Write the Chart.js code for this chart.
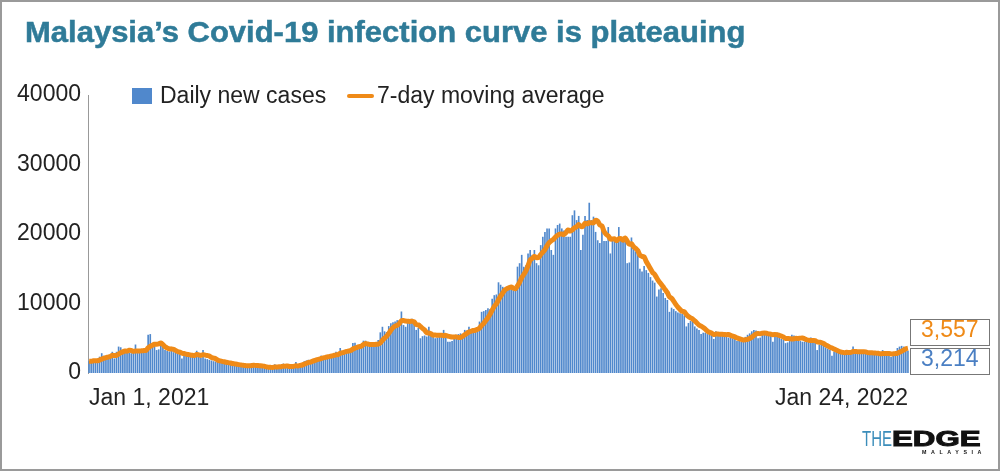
<!DOCTYPE html>
<html>
<head>
<meta charset="utf-8">
<title>Malaysia's Covid-19 infection curve is plateauing</title>
<script src="https://cdn.jsdelivr.net/npm/chart.js@4.4.1/dist/chart.umd.min.js"></script>
<style>
  html, body { margin: 0; padding: 0; background: #fff; }
  #page { position: relative; width: 1000px; height: 471px; overflow: hidden; background: #fff;
          font-family: "Liberation Sans", Arial, Helvetica, sans-serif; color: #222; }
  #chartBox { position: absolute; left: 0; top: 0; width: 1000px; height: 471px; }
  #frame { position: absolute; left: 0; top: 0; width: 1000px; height: 471px; box-sizing: border-box;
           border: 2px solid #9a9a9a; pointer-events: none; }
  #title { position: absolute; left: 25px; top: 17px; font-weight: bold; font-size: 30px; line-height: 30px;
           color: #2f7b98; white-space: nowrap; transform-origin: 0 0; -webkit-text-stroke: 0.5px #2f7b98; }
  .legendText { position: absolute; top: 84px; font-size: 23px; line-height: 23px; white-space: nowrap; color: #222; }
  #swatchBar { position: absolute; left: 132px; top: 88px; width: 20px; height: 16px; background: #5088cc; }
  #swatchLine { position: absolute; left: 347px; top: 94px; width: 27px; height: 4px; background: #ef8a17; border-radius: 2px; }
  .valueBox { position: absolute; left: 910px; width: 80px; height: 27px; box-sizing: border-box;
              border: 1px solid #777; background: #fff; font-size: 23px; line-height: 18px; padding-left: 10px; }
  #avgBox { top: 319px; color: #ef8a17; }
  #lastBox { top: 348px; color: #4a7fc3; }
  .logo { position: absolute; white-space: nowrap; transform-origin: 0 0; }
  #logoThe { left: 862px; top: 428px; font-size: 22px; line-height: 22px; color: #3b8dba; }
  #logoEdge { left: 892px; top: 428px; font-size: 22px; line-height: 22px; font-weight: bold; color: #111;
              -webkit-text-stroke: 1px #111; }
  #logoSub { left: 922px; top: 450px; font-size: 5px; line-height: 5px; font-weight: bold; color: #111; letter-spacing: 4.3px; }
</style>
</head>
<body>
<div id="page">
  <div id="chartBox"><canvas id="covidChart"></canvas></div>
  <div id="title">Malaysia’s Covid-19 infection curve is plateauing</div>
  <div id="swatchBar"></div>
  <div class="legendText" style="left:160px">Daily new cases</div>
  <div id="swatchLine"></div>
  <div class="legendText" style="left:377px">7-day moving average</div>
  <div class="valueBox" id="avgBox"></div>
  <div class="valueBox" id="lastBox"></div>
  <div class="logo" id="logoThe">THE</div>
  <div class="logo" id="logoEdge">EDGE</div>
  <div class="logo" id="logoSub">MALAYSIA</div>
  <div id="frame"></div>
</div>
<script>
// Daily new cases, Jan 1 2021 .. Jan 24 2022
const dailyCases = [
    1700, 1650, 1900, 1750, 1800, 2350, 2850, 2500, 2400, 2350,
    2300, 3050, 2100, 3050, 3800, 3700, 3300, 3100, 3000, 2900,
    2850, 3000, 4100, 3200, 3100, 3300, 3000, 3100, 5500, 5600,
    4300, 4100, 3300, 3400, 4000, 4000, 3300, 3200, 3100, 3300,
    3000, 2900, 2800, 2700, 2100, 2800, 2700, 2600, 2500, 2450,
    2400, 3200, 2400, 2200, 3300, 2100, 2000, 1900, 1800, 1700,
    1650, 1700, 1500, 1450, 1500, 1300, 1350, 1250, 1250, 1100,
    1100, 1050, 1000, 1050, 950, 1000, 1050, 1400, 1300, 900,
    850, 800, 850, 800, 750, 800, 850, 800, 1250, 900,
    850, 900, 1350, 850, 900, 850, 900, 950, 1600, 1000,
    1450, 1300, 1700, 1800, 1900, 1800, 2000, 2100, 2100, 2200,
    2500, 2450, 2400, 2500, 2600, 2500, 2750, 3050, 2800, 3600,
    3100, 3200, 3300, 3100, 3600, 4300, 4350, 4000, 3900, 3800,
    4650, 4650, 3900, 3800, 4000, 3900, 4000, 4750, 5850, 6650,
    6000, 5900, 6750, 7150, 7300, 7400, 7600, 7600, 8850, 6900,
    6650, 7200, 7150, 7800, 7000, 6200, 6500, 5000, 5300, 5400,
    5250, 6650, 5400, 5200, 5000, 5100, 5300, 5400, 6200, 5700,
    4500, 4500, 4600, 5400, 5500, 5600, 5700, 5500, 6200, 6100,
    6650, 6300, 6300, 6000, 6400, 7400, 8800, 8900, 9050, 9300,
    9200, 10700, 11200, 11300, 13050, 12700, 12400, 12200, 12200, 12100,
    12000, 11900, 12000, 15300, 15800, 17000, 15300, 15500, 17200, 17700,
    17000, 17700, 15800, 15500, 18400, 19600, 20300, 20800, 20800, 17700,
    17000, 20800, 21300, 21500, 20800, 20500, 19600, 19600, 19600, 22700,
    23400, 22000, 22600, 17700, 19900, 22600, 22000, 24500, 22000, 22500,
    20300, 19100, 18700, 21000, 19000, 19000, 21000, 17200, 19000, 19000,
    19000, 21000, 19200, 19300, 19500, 15800, 15900, 19500, 18000, 17500,
    17000, 15000, 14600, 15400, 14800, 14400, 13800, 13300, 13000, 11000,
    12000, 12200, 11500, 10800, 10500, 8800, 9400, 9200, 8900, 8700,
    8600, 8500, 8300, 6700, 7200, 7500, 7600, 6700, 6400, 6200,
    5600, 5800, 5800, 5600, 5600, 5500, 4900, 6000, 5800, 5600,
    5600, 5400, 5300, 5100, 5100, 5000, 4900, 4600, 4600, 4500,
    4600, 5200, 5500, 5700, 6000, 6200, 6100, 5000, 5100, 6000,
    5900, 5700, 5600, 5800, 4500, 5300, 5800, 5200, 4900, 4800,
    4300, 4400, 5200, 5500, 5400, 5300, 4700, 4600, 4500, 4500,
    4500, 4900, 5100, 4600, 4500, 3300, 4100, 4100, 4000, 3700,
    3500, 3300, 2500, 3100, 3100, 3000, 2900, 2900, 2900, 2900,
    2900, 3300, 3800, 2900, 2800, 2900, 2900, 2900, 3100, 3000,
    2800, 2700, 2700, 2800, 2700, 2600, 3300, 2800, 2800, 2700,
    2300, 2800, 2850, 3600, 3800, 3900, 3800, 3735, 3214
];

const yTicks = [0, 10000, 20000, 30000, 40000];
const xTickLabels = ['Jan 1, 2021', 'Jan 24, 2022'];

// one category per day
const dates = [];
const start = new Date(2021, 0, 1);
for (let i = 0; i < dailyCases.length; i++) {
    const d = new Date(start.getFullYear(), start.getMonth(), start.getDate() + i);
    dates.push(d.toLocaleDateString('en-US', { month: 'short', day: 'numeric', year: 'numeric' }));
}

// trailing 7-day average
const movingAvg = dailyCases.map((v, i) => {
    const win = dailyCases.slice(Math.max(0, i - 6), i + 1);
    return win.reduce((s, x) => s + x, 0) / win.length;
});

const blue = '#5088cc';
const orange = '#ef8a17';

document.getElementById('avgBox').textContent = Math.round(movingAvg[movingAvg.length - 1]).toLocaleString('en-US');
document.getElementById('lastBox').textContent = dailyCases[dailyCases.length - 1].toLocaleString('en-US');

// squeeze the title and logo words to their widths in the picture
function fitWidth(id, w) {
    const el = document.getElementById(id);
    el.style.transform = 'scaleX(' + (w / el.scrollWidth) + ')';
}
fitWidth('title', 720);
fitWidth('logoThe', 30);
fitWidth('logoEdge', 88);
fitWidth('logoSub', 64);

const ctx = document.getElementById('covidChart').getContext('2d');
new Chart(ctx, {
    type: 'bar',
    data: {
        labels: dates,
        datasets: [{
            type: 'line',
            label: '7-day moving average',
            data: movingAvg,
            borderColor: orange,
            borderWidth: 5,
            pointRadius: 0,
            tension: 0.3,
            fill: false,
            order: 0
        }, {
            type: 'bar',
            label: 'Daily new cases',
            data: dailyCases,
            backgroundColor: blue,
            categoryPercentage: 0.78,
            barPercentage: 1,
            order: 1
        }]
    },
    options: {
        responsive: true,
        maintainAspectRatio: false,
        animation: false,
        layout: { padding: { top: 95, right: 91, bottom: 53, left: 0 } },
        plugins: {
            legend: { display: false },
            tooltip: { enabled: false }
        },
        scales: {
            x: {
                grid: { display: false, drawTicks: false },
                border: { display: false },
                afterFit: scale => { scale.height = 45; },
                ticks: {
                    autoSkip: false,
                    maxRotation: 0,
                    minRotation: 0,
                    align: 'inner',
                    padding: 12,
                    color: '#222',
                    font: { family: '"Liberation Sans", Arial, sans-serif', size: 23 },
                    callback: function (value, index) {
                        if (index === 0) return xTickLabels[0];
                        if (index === dates.length - 1) return xTickLabels[1];
                        return '';
                    }
                }
            },
            y: {
                min: yTicks[0],
                max: yTicks[yTicks.length - 1],
                grid: { display: false, drawTicks: false },
                border: { display: true, color: '#999', width: 1 },
                afterFit: scale => { scale.width = 88; },
                afterBuildTicks: scale => { scale.ticks = yTicks.map(v => ({ value: v })); },
                ticks: {
                    padding: 7,
                    color: '#222',
                    font: { family: '"Liberation Sans", Arial, sans-serif', size: 23 },
                    callback: value => String(value)
                }
            }
        }
    }
});
</script>
</body>
</html>
